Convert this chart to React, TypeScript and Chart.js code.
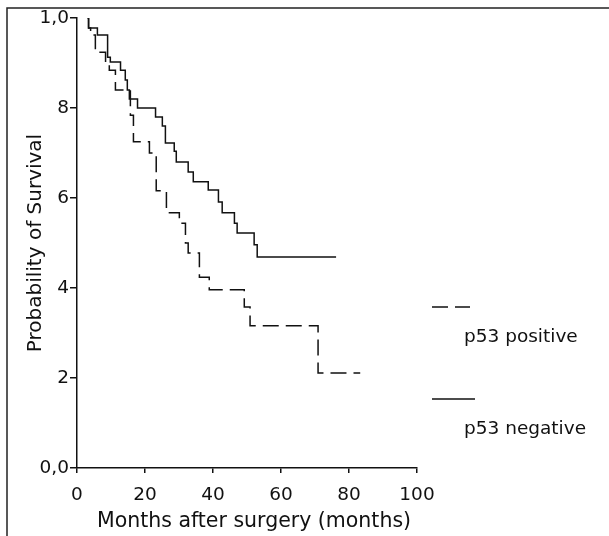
import React, { useEffect, useRef } from "react";
import { Chart, registerables } from "chart.js";

Chart.register(...registerables);

// ---- data ----
const seriesLabels = ["p53 positive", "p53 negative"];

const positiveMonths = [3.1, 3.4, 4.0, 5.4, 8.4, 9.5, 11.3, 15.7, 16.6, 21.3, 23.3, 26.3, 30.1, 31.9, 32.7, 36.0, 38.9, 49.2, 50.9, 70.9, 83.3];
const positiveSurvival = [1.0, 0.978, 0.962, 0.924, 0.902, 0.884, 0.84, 0.784, 0.725, 0.70, 0.616, 0.567, 0.544, 0.50, 0.478, 0.424, 0.396, 0.358, 0.316, 0.211, 0.211];

const negativeMonths = [3.1, 3.4, 6.0, 9.0, 9.8, 12.8, 14.2, 14.8, 15.4, 17.8, 23.1, 25.1, 26.0, 28.6, 29.2, 32.7, 34.2, 38.6, 41.6, 42.7, 46.3, 47.1, 52.1, 53.0, 76.2];
const negativeSurvival = [1.0, 0.978, 0.962, 0.913, 0.902, 0.884, 0.862, 0.84, 0.82, 0.80, 0.78, 0.76, 0.722, 0.704, 0.68, 0.658, 0.636, 0.618, 0.591, 0.567, 0.544, 0.522, 0.496, 0.469, 0.469];

const xTickValues = [0, 20, 40, 60, 80, 100];
const yTickValues = [0, 0.2, 0.4, 0.6, 0.8, 1.0];
const yTickLabels = ["0,0", "2", "4", "6", "8", "1,0"];

const xTitle = "Months after surgery (months)";
const yTitle = "Probability of Survival";

const FONT = '"DejaVu Sans", Verdana, sans-serif';
const INK = "#111";

const decorPlugin = {
  id: "decor",
  afterDraw(chart: any) {
    const ctx = chart.ctx as CanvasRenderingContext2D;
    const { left, right, top } = chart.chartArea;
    ctx.save();
    // figure frame (top and left edges)
    ctx.strokeStyle = "#222";
    ctx.lineWidth = 1.5;
    ctx.setLineDash([]);
    ctx.beginPath();
    ctx.moveTo(7, 536);
    ctx.lineTo(7, 8);
    ctx.lineTo(609, 8);
    ctx.stroke();

    // x axis title
    ctx.fillStyle = INK;
    ctx.font = `20.5px ${FONT}`;
    ctx.textAlign = "center";
    ctx.textBaseline = "alphabetic";
    ctx.fillText(xTitle, (left + right) / 2 + 7, 527);

    // legend: sample line above the label
    const rows = [289, 381];
    const lens = [53, 58];
    chart.data.datasets.forEach((ds: any, i: number) => {
      const y = top + rows[i];
      ctx.strokeStyle = ds.borderColor;
      ctx.lineWidth = 1.5;
      ctx.setLineDash(ds.borderDash || []);
      ctx.beginPath();
      ctx.moveTo(right + 15, y);
      ctx.lineTo(right + lens[i], y);
      ctx.stroke();
      ctx.setLineDash([]);
      ctx.fillStyle = INK;
      ctx.font = `18.5px ${FONT}`;
      ctx.textAlign = "left";
      ctx.textBaseline = "alphabetic";
      ctx.fillText(ds.label, right + 47, y + 35);
    });
    ctx.restore();
  },
};

export default function App() {
  const ref = useRef<HTMLCanvasElement | null>(null);

  useEffect(() => {
    if (!ref.current) return;
    const chart = new Chart(ref.current, {
      type: "scatter",
      data: {
        datasets: [
          {
            label: seriesLabels[0],
            data: positiveMonths.map((m, i) => ({ x: m, y: positiveSurvival[i] })),
            showLine: true,
            stepped: "before",
            borderColor: INK,
            borderWidth: 1.5,
            borderDash: [16, 7],
            pointRadius: 0,
            fill: false,
          },
          {
            label: seriesLabels[1],
            data: negativeMonths.map((m, i) => ({ x: m, y: negativeSurvival[i] })),
            showLine: true,
            stepped: "before",
            borderColor: INK,
            borderWidth: 1.5,
            pointRadius: 0,
            fill: false,
          },
        ],
      },
      options: {
        animation: false,
        responsive: false,
        maintainAspectRatio: false,
        layout: { padding: { left: 0, right: 192, top: 18, bottom: 0 } },
        plugins: { legend: { display: false }, tooltip: { enabled: false } },
        scales: {
          x: {
            type: "linear",
            min: 0,
            max: 100,
            afterBuildTicks: (s: any) => {
              s.ticks = xTickValues.map((v) => ({ value: v }));
            },
            afterFit: (s: any) => {
              s.height = 68;
            },
            grid: { drawOnChartArea: false, drawTicks: true, tickLength: 5, color: INK, lineWidth: 1.5 },
            border: { display: true, color: INK, width: 1.5 },
            ticks: {
              color: INK,
              font: { family: FONT, size: 18.5 },
              padding: 11,
              maxRotation: 0,
              autoSkip: false,
            },
            title: { display: false },
          },
          y: {
            type: "linear",
            min: 0,
            max: 1,
            afterBuildTicks: (s: any) => {
              s.ticks = yTickValues.map((v) => ({ value: v }));
            },
            afterFit: (s: any) => {
              s.width = 77;
            },
            grid: { drawOnChartArea: false, drawTicks: true, tickLength: 7, color: INK, lineWidth: 1.5 },
            border: { display: true, color: INK, width: 1.5 },
            ticks: {
              color: INK,
              font: { family: FONT, size: 18.5 },
              padding: 1,
              autoSkip: false,
              callback: (v: any) => {
                const idx = yTickValues.findIndex((t) => Math.abs(t - Number(v)) < 1e-6);
                return idx >= 0 ? yTickLabels[idx] : "";
              },
            },
            title: {
              display: true,
              text: yTitle,
              color: INK,
              font: { family: FONT, size: 20 },
              padding: { top: 24, bottom: 0 },
            },
          },
        },
      },
      plugins: [decorPlugin],
    });
    return () => chart.destroy();
  }, []);

  return (
    <div style={{ position: "fixed", left: 0, top: 0, width: 609, height: 536, background: "#fff" }}>
      <canvas ref={ref} width={609} height={536} style={{ display: "block" }} />
    </div>
  );
}
